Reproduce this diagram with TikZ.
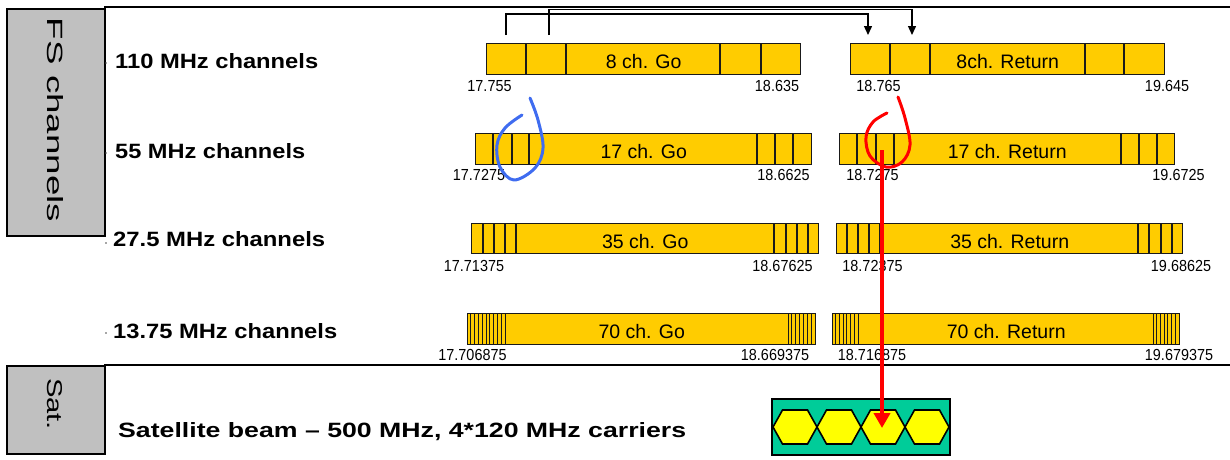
\documentclass[tikz,border=0pt]{standalone}
\usepackage{fontspec}
\setmainfont{Liberation Sans}
\usepackage{graphicx}
\usetikzlibrary{arrows.meta}
\definecolor{gold}{HTML}{FFCC00}
\definecolor{barline}{HTML}{1A1A1A}
\definecolor{boxgray}{HTML}{C0C0C0}
\definecolor{beamgreen}{HTML}{00CC99}
\definecolor{hexyellow}{HTML}{FFFF00}
\definecolor{penblue}{HTML}{3F6CF0}
\definecolor{penred}{HTML}{FF0000}
\newcommand{\fitbox}[3]{\resizebox{#1pt}{#2pt}{#3}}
\newcommand{\fnum}[1]{\scalebox{0.9}[1]{\fontsize{16}{16}\selectfont #1}}
\begin{document}
\begin{tikzpicture}[x=1pt,y=-1pt,
  bar/.style={draw=barline,line width=1.4pt,fill=gold,inner sep=0pt,anchor=north west,minimum height=31pt,text height=19pt,text depth=0pt,font=\fontsize{19.5}{20}\selectfont},
  div/.style={draw=barline,line width=1.2pt},
  hatch/.style={draw=barline,line width=0.9pt},
  numlab/.style={inner sep=0pt,anchor=base},
  rowlab/.style={inner sep=0pt,anchor=base west},
  graybox/.style={draw=black,line width=2pt,fill=boxgray,anchor=north west,inner sep=0pt},
  frame/.style={draw=black,line width=2pt},
  conn/.style={draw=black,line width=1.4pt},
  pen/.style={line width=3pt,line cap=round,line join=round},
  hex/.style={draw=black,line width=1.6pt,fill=hexyellow,line join=miter},
  greenbox/.style={draw=black,line width=2pt,fill=beamgreen,anchor=north west,inner sep=0pt}
]
\useasboundingbox (0,0) rectangle (1230,459);
% frame lines
\draw[frame] (104,7) -- (1230,7);
\draw[frame] (104,365) -- (1230,365);
% side boxes
\node[graybox,minimum width=98pt,minimum height=227pt] (fs) at (6,8) {};
\node[inner sep=0pt] (fstext) at (55,120) {\rotatebox{-90}{\fitbox{204}{16}{FS channels}}};
\node[graybox,minimum width=98pt,minimum height=88pt] (sat) at (6,365) {};
\node[inner sep=0pt] (sattext) at (55,404) {\rotatebox{-90}{\fitbox{52}{15}{Sat.}}};
% small dots
\foreach \yy in {63,153,243,333} \fill[black!70] (106,\yy) circle (0.9);
% row labels
\node[rowlab] (l1) at (115,68) {\fitbox{203}{15}{\bfseries 110 MHz channels}};
\node[rowlab] (l2) at (115,158) {\fitbox{190}{15}{\bfseries 55 MHz channels}};
\node[rowlab] (l3) at (113,246.5) {\fitbox{212}{15}{\bfseries 27.5 MHz channels}};
\node[rowlab] (l4) at (113,338) {\fitbox{224}{15}{\bfseries 13.75 MHz channels}};
\node[rowlab] (sl) at (118,437) {\fitbox{568}{15}{\bfseries Satellite beam -- 500 MHz, 4*120 MHz carriers}};
% row 1
\node[bar,minimum width=314pt] (g1) at (486,43) {8 ch. Go};
\foreach \d in {40,80,234,275} \draw[div] ([xshift=\d pt]g1.north west) -- ([xshift=\d pt]g1.south west);
\node[bar,minimum width=314pt] (r1) at (850,43) {8ch. Return};
\foreach \d in {40,80,235,274} \draw[div] ([xshift=\d pt]r1.north west) -- ([xshift=\d pt]r1.south west);
% row 2
\node[bar,minimum width=336pt] (g2) at (475,133) {17 ch. Go};
\foreach \d in {18,37,54,282,300,318} \draw[div] ([xshift=\d pt]g2.north west) -- ([xshift=\d pt]g2.south west);
\node[bar,minimum width=335pt] (r2) at (839,133) {17 ch. Return};
\foreach \d in {18,37,55,282,300,318} \draw[div] ([xshift=\d pt]r2.north west) -- ([xshift=\d pt]r2.south west);
% row 3
\node[bar,minimum width=347pt,minimum height=30pt] (g3) at (471,223) {35 ch. Go};
\foreach \d in {12,23,34,45,303,315,326,337} \draw[div] ([xshift=\d pt]g3.north west) -- ([xshift=\d pt]g3.south west);
\node[bar,minimum width=346pt,minimum height=30pt] (r3) at (836,223) {35 ch. Return};
\foreach \d in {11,22,33,44,302,313,325,336} \draw[div] ([xshift=\d pt]r3.north west) -- ([xshift=\d pt]r3.south west);
% row 4
\node[bar,minimum width=348pt] (g4) at (467,313) {70 ch. Go};
\foreach \k in {1,...,10} \draw[hatch] ([xshift={(3.8*\k)*1pt}]g4.north west) -- ([xshift={(3.8*\k)*1pt}]g4.south west);
\foreach \k in {0,...,6} \draw[hatch] ([xshift={(321+3.857*\k)*1pt}]g4.north west) -- ([xshift={(321+3.857*\k)*1pt}]g4.south west);
\node[bar,minimum width=347pt] (r4) at (832,313) {70 ch. Return};
\foreach \k in {1,...,7} \draw[hatch] ([xshift={(3.71*\k)*1pt}]r4.north west) -- ([xshift={(3.71*\k)*1pt}]r4.south west);
\foreach \k in {0,...,6} \draw[hatch] ([xshift={(321+3.71*\k)*1pt}]r4.north west) -- ([xshift={(321+3.71*\k)*1pt}]r4.south west);
% frequency numbers
\node[numlab] (n11) at (489.5,91) {\fnum{17.755}};
\node[numlab] (n12) at (777,91) {\fnum{18.635}};
\node[numlab] (n13) at (878.5,91) {\fnum{18.765}};
\node[numlab] (n14) at (1167,91) {\fnum{19.645}};
\node[numlab] (n21) at (479,180) {\fnum{17.7275}};
\node[numlab] (n22) at (783.5,180) {\fnum{18.6625}};
\node[numlab] (n23) at (872.5,180) {\fnum{18.7275}};
\node[numlab] (n24) at (1178.5,180) {\fnum{19.6725}};
\node[numlab] (n31) at (474,271) {\fnum{17.71375}};
\node[numlab] (n32) at (782.5,271) {\fnum{18.67625}};
\node[numlab] (n33) at (872.5,271) {\fnum{18.72375}};
\node[numlab] (n34) at (1181,271) {\fnum{19.68625}};
\node[numlab] (n41) at (472.5,360) {\fnum{17.706875}};
\node[numlab] (n42) at (775,360) {\fnum{18.669375}};
\node[numlab] (n43) at (872,360) {\fnum{18.716875}};
\node[numlab] (n44) at (1179,360) {\fnum{19.679375}};
% bracket connectors
\coordinate (s1) at (506,35); \coordinate (e1) at (868,35);
\coordinate (s2) at (549,35); \coordinate (e2) at (912,35);
\draw[conn,-{Triangle[length=9pt,width=8pt]}] (s2) -- ++(0,-25.5) -| (e2);
\draw[conn,-{Triangle[length=9pt,width=8pt]}] (s1) -- ++(0,-21) -| (e1);
% satellite beam
\node[greenbox,minimum width=178pt,minimum height=56pt] (beam) at (771,398) {};
\foreach \i/\cx in {1/795,2/839,3/883,4/927} {
  \draw[hex] (\cx-22,427) -- (\cx-12.5,410) -- (\cx+12.5,410) -- (\cx+22,427) -- (\cx+12.5,444) -- (\cx-12.5,444) -- cycle;
}
\coordinate (h3) at (883,428);
% hand-drawn marks
\draw[pen,penblue] plot[smooth,tension=0.6] coordinates {(530,98) (538,120) (543,148) (535,168) (514,180) (500,167) (497,145) (505,128) (522,115)};
\draw[pen,penred] plot[smooth,tension=0.6] coordinates {(898,97) (905,118) (910,145) (902,162) (886,167) (870,156) (866,137) (873,122) (887,113)};
\coordinate (rs) at (882,150);
\draw[penred,line width=4.5pt,-{Triangle[length=15pt,width=16pt]}] (rs) -- (rs |- h3);
\end{tikzpicture}
\end{document}
